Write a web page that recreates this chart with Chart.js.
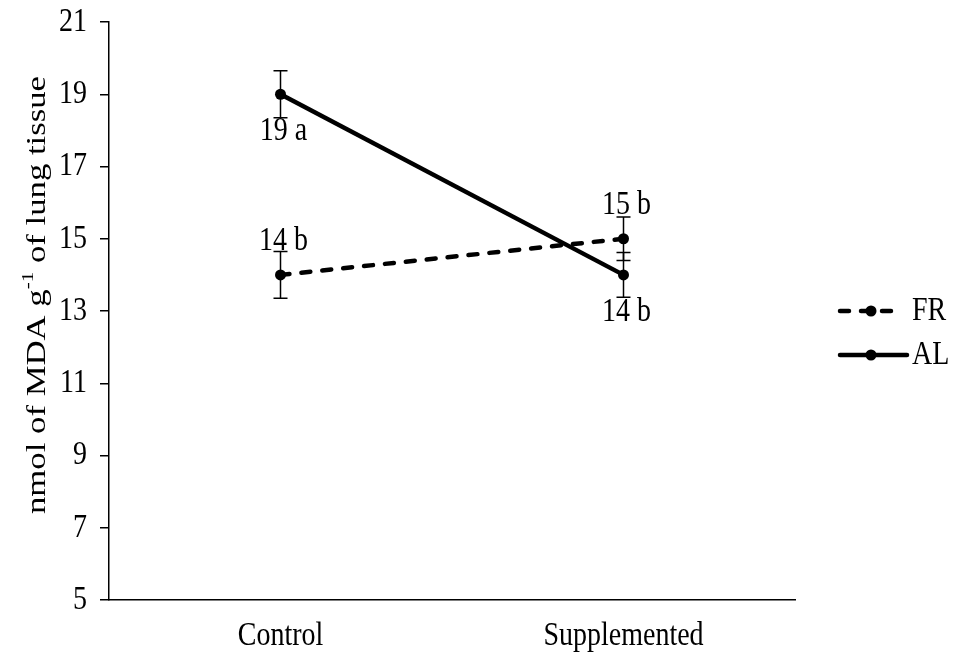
<!DOCTYPE html>
<html>
<head>
<meta charset="utf-8">
<script src="https://cdn.jsdelivr.net/npm/chart.js@4.4.0/dist/chart.umd.min.js"></script>
<style>
  html, body { margin: 0; padding: 0; background: #fff; }
  #wrap { width: 958px; height: 656px; }
</style>
</head>
<body>
<div id="wrap"><canvas id="chart" width="958" height="656"></canvas></div>
<script>
// Chart data
const categories = ['Control', 'Supplemented'];
const seriesNames = ['FR', 'AL'];
const frValues = [14, 15];
const alValues = [19, 14];
const frErrors = [0.65, 0.6];
const alErrors = [0.65, 0.62];
const frLabels = ['14 b', '15 b'];
const alLabels = ['19 a', '14 b'];
const yTicks = [5, 7, 9, 11, 13, 15, 17, 19, 21];

const FONT = '"Liberation Serif", "Times New Roman", serif';
const FONT_SIZE = 28;
const STRETCH = 1.2; // text in the original figure is a bit taller than wide

// draw text stretched vertically around (x, y)
function tallText(ctx, text, x, y, align, size) {
    ctx.save();
    ctx.translate(x, y);
    ctx.scale(1, STRETCH);
    ctx.font = (size || FONT_SIZE) + 'px ' + FONT;
    ctx.fillStyle = '#000';
    ctx.textAlign = align;
    ctx.textBaseline = 'middle';
    ctx.fillText(text, 0, 0);
    ctx.restore();
}

// Tick labels drawn from the scales' own ticks
const tickText = {
    id: 'tickText',
    afterDraw(chart) {
        const ctx = chart.ctx;
        const x = chart.scales.x;
        const y = chart.scales.y;
        y.ticks.forEach((t, i) => {
            tallText(ctx, String(t.value), y.right - 9 - 13, y.getPixelForTick(i), 'right');
        });
        x.ticks.forEach((t, i) => {
            tallText(ctx, chart.data.labels[i], x.getPixelForTick(i), x.top + 36, 'center');
        });
    }
};

// Error bars drawn from the y scale
const errorBars = {
    id: 'errorBars',
    afterDatasetsDraw(chart) {
        const ctx = chart.ctx;
        const y = chart.scales.y;
        chart.data.datasets.forEach((ds, i) => {
            const meta = chart.getDatasetMeta(i);
            meta.data.forEach((pt, j) => {
                const v = ds.data[j];
                const e = ds.errors[j];
                const top = y.getPixelForValue(v + e);
                const bot = y.getPixelForValue(v - e);
                ctx.save();
                ctx.strokeStyle = '#000';
                ctx.lineWidth = 1.5;
                ctx.beginPath();
                ctx.moveTo(pt.x, top);
                ctx.lineTo(pt.x, bot);
                ctx.moveTo(pt.x - 7, top);
                ctx.lineTo(pt.x + 7, top);
                ctx.moveTo(pt.x - 7, bot);
                ctx.lineTo(pt.x + 7, bot);
                ctx.stroke();
                ctx.restore();
            });
        });
    }
};

// Value labels next to the points
const pointLabels = {
    id: 'pointLabels',
    afterDatasetsDraw(chart) {
        const ctx = chart.ctx;
        chart.data.datasets.forEach((ds, i) => {
            const meta = chart.getDatasetMeta(i);
            meta.data.forEach((pt, j) => {
                const dy = ds.labelPos === 'below' ? 37 : -34;
                tallText(ctx, ds.valueLabels[j], pt.x + 3, pt.y + dy, 'center');
            });
        });
    }
};

// Y axis title with superscript
const yTitle = {
    id: 'yTitle',
    afterDraw(chart) {
        const ctx = chart.ctx;
        const parts = [
            { t: 'nmol of MDA g', sup: false },
            { t: '-1', sup: true },
            { t: ' of lung tissue', sup: false }
        ];
        const big = FONT_SIZE + 'px ' + FONT;
        const small = Math.round(FONT_SIZE * 0.6) + 'px ' + FONT;
        let total = 0;
        parts.forEach(p => {
            ctx.font = p.sup ? small : big;
            p.w = ctx.measureText(p.t).width;
            total += p.w;
        });
        ctx.save();
        ctx.translate(38, 295);
        ctx.rotate(-Math.PI / 2);
        ctx.scale(1.24, 1);
        ctx.fillStyle = '#000';
        ctx.textBaseline = 'middle';
        ctx.textAlign = 'left';
        let x = -total / 2;
        parts.forEach(p => {
            ctx.font = p.sup ? small : big;
            ctx.fillText(p.t, x, p.sup ? -9 : 0);
            x += p.w;
        });
        ctx.restore();
    }
};

// Legend at the right
const sideLegend = {
    id: 'sideLegend',
    afterDraw(chart) {
        const ctx = chart.ctx;
        const rows = [311, 355];
        const lineEnd = [897, 907];
        chart.data.datasets.forEach((ds, i) => {
            const yy = rows[i];
            ctx.save();
            ctx.strokeStyle = '#000';
            ctx.lineWidth = 4.5;
            ctx.lineCap = 'round';
            ctx.setLineDash(ds.borderDash || []);
            ctx.beginPath();
            ctx.moveTo(840, yy);
            ctx.lineTo(lineEnd[i], yy);
            ctx.stroke();
            ctx.setLineDash([]);
            ctx.beginPath();
            ctx.arc(871, yy, 5.5, 0, Math.PI * 2);
            ctx.fillStyle = '#000';
            ctx.fill();
            ctx.restore();
            tallText(ctx, ds.label, 912, yy, 'left');
        });
    }
};

const ctx = document.getElementById('chart').getContext('2d');
const chart = new Chart(ctx, {
    type: 'line',
    data: {
        labels: categories,
        datasets: [
            {
                label: seriesNames[0],
                data: frValues,
                errors: frErrors,
                valueLabels: frLabels,
                labelPos: 'above',
                borderColor: '#000',
                backgroundColor: '#000',
                borderWidth: 4.5,
                borderDash: [9, 12],
                borderCapStyle: 'round',
                pointRadius: 5.5,
                pointBorderWidth: 0,
                fill: false
            },
            {
                label: seriesNames[1],
                data: alValues,
                errors: alErrors,
                valueLabels: alLabels,
                labelPos: 'below',
                borderColor: '#000',
                backgroundColor: '#000',
                borderWidth: 4.5,
                pointRadius: 5.5,
                pointBorderWidth: 0,
                fill: false
            }
        ]
    },
    options: {
        responsive: false,
        animation: false,
        layout: { padding: { left: 0, top: 22, right: 163, bottom: 0 } },
        plugins: {
            legend: { display: false },
            tooltip: { enabled: false }
        },
        scales: {
            x: {
                offset: true,
                grid: { display: true, drawOnChartArea: false, drawTicks: false },
                border: { color: '#000', width: 1.5 },
                ticks: { color: 'rgba(0,0,0,0)', font: { family: FONT, size: FONT_SIZE }, padding: 19 },
                afterFit(scale) {
                    scale.height = 56;
                    scale.paddingLeft = 0;
                    scale.paddingRight = 0;
                }
            },
            y: {
                min: 5,
                max: 21,
                afterBuildTicks(scale) {
                    scale.ticks = yTicks.map(v => ({ value: v }));
                },
                grid: { drawOnChartArea: false, drawTicks: true, tickLength: 9, color: '#000', lineWidth: 1.5 },
                border: { color: '#000', width: 1.5 },
                ticks: { color: 'rgba(0,0,0,0)', font: { family: FONT, size: FONT_SIZE }, padding: 12 },
                afterFit(scale) {
                    scale.width = 109;
                    scale.paddingTop = 0;
                    scale.paddingBottom = 0;
                }
            }
        }
    },
    plugins: [errorBars, pointLabels, yTitle, sideLegend, tickText]
});
</script>
</body>
</html>
